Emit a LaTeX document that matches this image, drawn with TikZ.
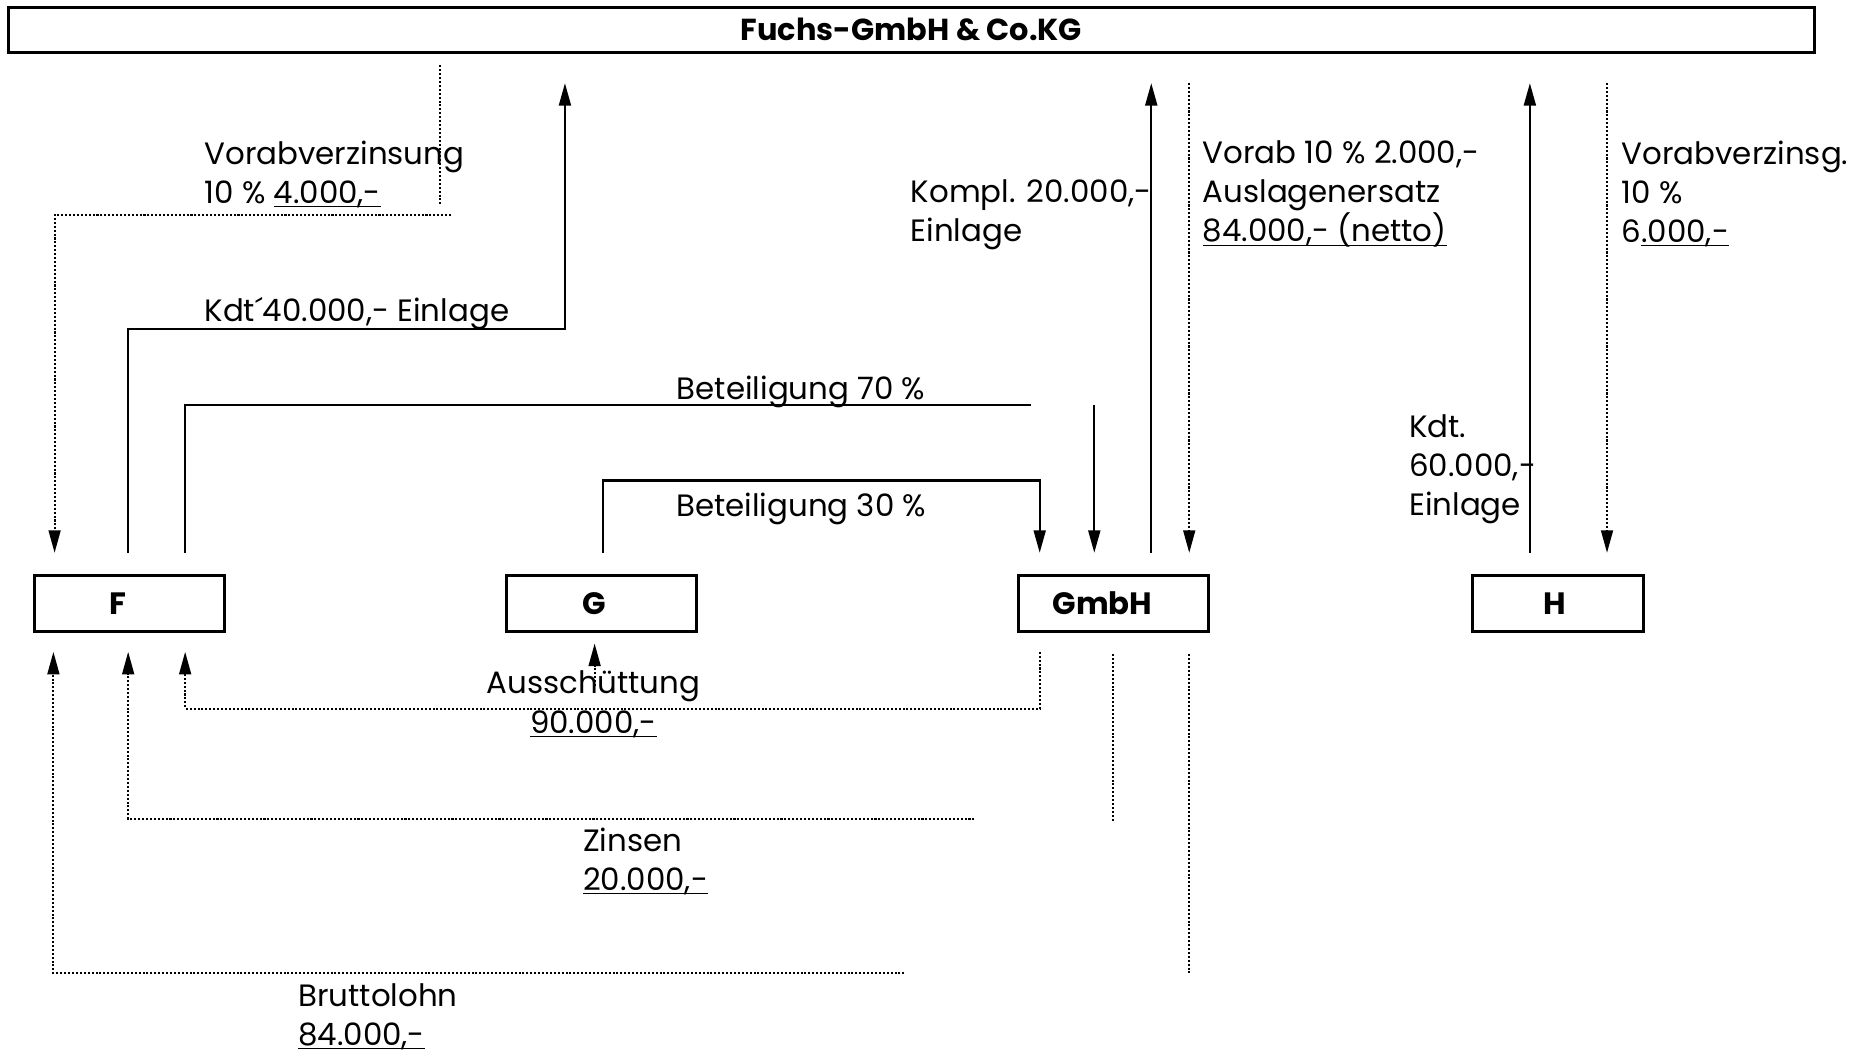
\documentclass[tikz,border=0pt]{standalone}
\usepackage{fontspec}
\setmainfont{Poppins}
\usetikzlibrary{arrows.meta,calc}

% underline sitting just below the baseline
\newcommand\ulbase[1]{\underline{\smash{#1}}}

\tikzset{
  party/.style={draw, line width=1.2pt, minimum width=80pt, minimum height=23.5pt, inner sep=0pt, font=\fontsize{13}{16}\selectfont\bfseries},
  lbl/.style={inner sep=0pt, anchor=north west, align=left, font=\fontsize{13}{16.5}\selectfont},
  flow/.style={line width=1pt},
  flowarrow/.style={flow, -{Triangle[length=9.5pt, width=5pt]}},
  dots/.style={line width=0.85pt, dash pattern=on 0.85pt off 0.8pt},
  dotsarrow/.style={dots, -{Triangle[length=9.5pt, width=5pt]}},
}

\begin{document}
\begin{tikzpicture}[x=0.5pt, y=0.5pt, yscale=-1, xscale=1]
\useasboundingbox (0, 0) rectangle (1568, 887);
%Boxes
\node (fuchs) [party, minimum width=761pt, minimum height=19pt, font=\fontsize{12.8}{16}\selectfont\bfseries] at (768, 25) {Fuchs-GmbH \& Co.KG};
\node (F) [party] at (109, 508.5) {F\kern10pt};
\node (G) [party] at (507, 508.5) {G\kern6pt};
\node (GmbH) [party] at (938, 508.5) {GmbH\kern9pt};
\node (H) [party, minimum width=72pt] at (1313, 508.5) {H\kern3pt};
%Free ends
\coordinate (vzA) at (371, 55);
\coordinate (vzB) at (371, 172);
\coordinate (vzC) at (380, 181);
\coordinate (kdtC) at (476, 277);
\coordinate (kdtE) at (476, 70);
\coordinate (b70E) at (869, 341);
\coordinate (b70G) at (922, 341);
\coordinate (b30C) at (876, 405);
\coordinate (komplE) at (970, 70);
\coordinate (vorabA) at (1002, 70);
\coordinate (kdtHE) at (1289, 70);
\coordinate (vzHA) at (1354, 70);
\coordinate (ausA) at (501, 578);
\coordinate (ausC) at (156, 597);
\coordinate (zinsA) at (938, 692);
\coordinate (zinsC) at (821, 690);
\coordinate (bruttoA) at (1002, 820);
\coordinate (bruttoC) at (762, 820);
%Above
\draw[dots] (vzA) -- (vzB);
\draw[dotsarrow] (vzC) -| ($(F.north)+(-63,-18)$);
\draw[flowarrow] ($(F.north)+(-1,-18)$) |- (kdtC) -- (kdtE);
\draw[flow] ($(F.north)+(47,-18)$) |- (b70E);
\draw[flowarrow] (b70G) -- ($(GmbH.north)+(-16,-18)$);
\draw[flowarrow] ($(G.north)+(1,-18)$) |- (b30C) -- ($(GmbH.north)+(-62,-18)$);
\draw[flowarrow] ($(GmbH.north)+(32,-18)$) -- (komplE);
\draw[dotsarrow] (vorabA) -- ($(GmbH.north)+(64,-18)$);
\draw[flowarrow] ($(H.north)+(-24,-18)$) -- (kdtHE);
\draw[dotsarrow] (vzHA) -- ($(H.north)+(41,-18)$);
%Below
\draw[dotsarrow] ($(GmbH.south)+(-62,16)$) |- (ausC) -- ($(F.south)+(47,16)$);
\draw[dotsarrow] (ausA) -- ($(G.south)+(-6,9)$);
\draw[dots] ($(GmbH.south)+(0,18)$) -- (zinsA);
\draw[dotsarrow] (zinsC) -| ($(F.south)+(-1,16)$);
\draw[dots] ($(GmbH.south)+(64,18)$) -- (bruttoA);
\draw[dotsarrow] (bruttoC) -| ($(F.south)+(-64,16)$);
%Text
\node (vzFtxt) [lbl] at (172, 118) {Vorabverzinsung\\10 \% \ulbase{4.000,-}};
\node (kdtFtxt) [lbl] at (172, 250) {Kdt´40.000,- Einlage};
\node (b70txt) [lbl, anchor=north] at (675, 316) {Beteiligung 70 \%};
\node (b30txt) [lbl, anchor=north] at (675, 415) {Beteiligung 30 \%};
\node (kompltxt) [lbl] at (767, 151) {Kompl. 20.000,-\\Einlage};
\node (vorabtxt) [lbl] at (1013, 118) {Vorab 10 \% 2.000,-\\Auslagenersatz\\\ulbase{84.000,- (netto)}};
\node (vzHtxt) [lbl] at (1366, 118) {Vorabverzinsg.\\10 \%\\6\ulbase{.000,-}};
\node (kdtHtxt) [lbl] at (1187, 349) {Kdt.\\60.000,-\\Einlage};
\node (austxt) [lbl, anchor=north, align=center] at (500, 565) {Ausschüttung\\\ulbase{90.000,-}};
\node (zinstxt) [lbl] at (491, 697) {Zinsen\\\ulbase{20.000,-}};
\node (bruttotxt) [lbl] at (251, 828) {Bruttolohn\\\ulbase{84.000,-}};
\end{tikzpicture}
\end{document}
